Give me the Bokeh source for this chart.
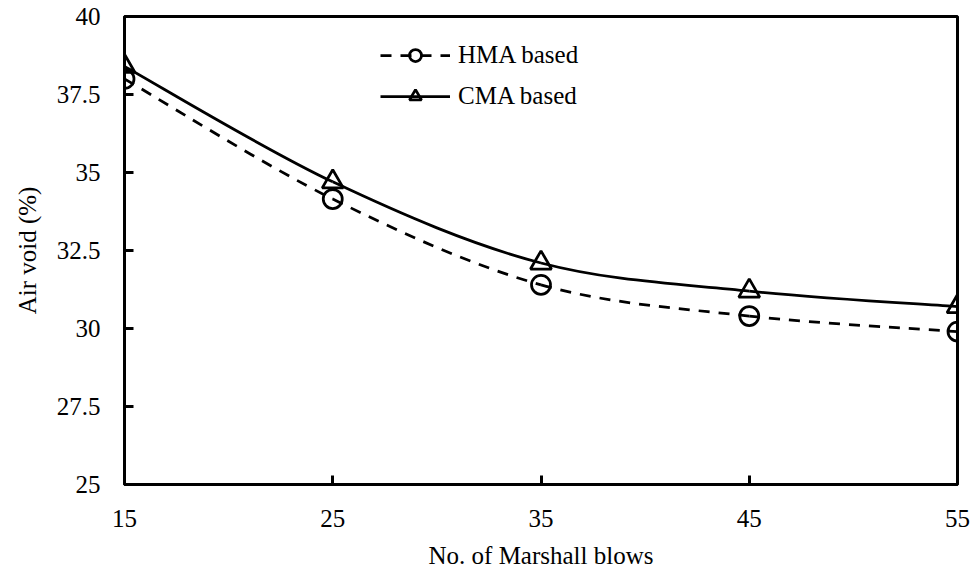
from bokeh.plotting import figure
from bokeh.models import Range1d, FixedTicker, Legend, LegendItem, ColumnDataSource
from bokeh.embed import file_html
from bokeh.resources import INLINE

blows = [15, 25, 35, 45, 55]
hma = [38.0, 34.15, 31.4, 30.4, 29.9]
cma = [38.4, 34.7, 32.1, 31.2, 30.7]
x_ticks = [15, 25, 35, 45, 55]
y_ticks = [25, 27.5, 30, 32.5, 35, 37.5, 40]
y_tick_labels = {25: "25", 27.5: "27.5", 30: "30", 32.5: "32.5", 35: "35", 37.5: "37.5", 40: "40"}

FONT = "Liberation Serif"


def smooth_segments(xs, ys):
    # Cardinal (Catmull-Rom style) Bezier control points for a smoothed line
    n = len(xs)
    x0, y0, x1, y1, cx0, cy0, cx1, cy1 = [], [], [], [], [], [], [], []
    t = 1.0 / 6.0
    for i in range(n - 1):
        xp, yp = (xs[i - 1], ys[i - 1]) if i > 0 else (xs[i], ys[i])
        xn, yn = (xs[i + 2], ys[i + 2]) if i + 2 < n else (xs[i + 1], ys[i + 1])
        x0.append(xs[i]); y0.append(ys[i])
        x1.append(xs[i + 1]); y1.append(ys[i + 1])
        cx0.append(xs[i] + (xs[i + 1] - xp) * t)
        cy0.append(ys[i] + (ys[i + 1] - yp) * t)
        cx1.append(xs[i + 1] - (xn - xs[i]) * t)
        cy1.append(ys[i + 1] - (yn - ys[i]) * t)
    return dict(x0=x0, y0=y0, x1=x1, y1=y1, cx0=cx0, cy0=cy0, cx1=cx1, cy1=cy1)


p = figure(width=972, height=579, output_backend="svg", toolbar_location=None,
           x_range=Range1d(15, 55), y_range=Range1d(25, 40),
           min_border_left=124, min_border_right=15, min_border_top=16, min_border_bottom=95)

p.background_fill_color = "white"
p.border_fill_color = "white"
p.outline_line_color = "black"
p.outline_line_width = 3
p.xgrid.visible = False
p.ygrid.visible = False

for ax in (p.xaxis[0], p.yaxis[0]):
    ax.axis_line_width = 3
    ax.axis_line_color = "black"
    ax.major_tick_in = 9
    ax.major_tick_out = 0
    ax.major_tick_line_width = 3
    ax.minor_tick_line_color = None
    ax.major_label_text_font = FONT
    ax.major_label_text_font_size = "25px"
    ax.major_label_text_color = "black"
    ax.axis_label_text_font = FONT
    ax.axis_label_text_font_size = "25px"
    ax.axis_label_text_font_style = "normal"
    ax.axis_label_text_color = "black"

p.xaxis.ticker = FixedTicker(ticks=x_ticks)
p.yaxis.ticker = FixedTicker(ticks=y_ticks)
p.yaxis.major_label_overrides = y_tick_labels
p.xaxis.major_label_standoff = 25
p.yaxis.major_label_standoff = 24
p.xaxis.axis_label = "No. of Marshall blows"
p.yaxis.axis_label = "Air void (%)"
p.xaxis.axis_label_standoff = 12
p.yaxis.axis_label_standoff = 13

hs = ColumnDataSource(smooth_segments(blows, hma))
cs = ColumnDataSource(smooth_segments(blows, cma))

p.bezier(x0="x0", y0="y0", x1="x1", y1="y1", cx0="cx0", cy0="cy0", cx1="cx1", cy1="cy1",
         source=hs, line_color="black", line_width=2.75, line_dash="11 9")
p.bezier(x0="x0", y0="y0", x1="x1", y1="y1", cx0="cx0", cy0="cy0", cx1="cx1", cy1="cy1",
         source=cs, line_color="black", line_width=2.75)

hm = p.scatter(blows, hma, marker="circle", size=19, fill_alpha=0,
               line_color="black", line_width=2.75)
cm = p.scatter(blows, cma, marker="triangle", size=21, fill_alpha=0,
               line_color="black", line_width=2.75)

# proxy renderers for legend glyphs
lh = p.line([15, 15], [25, 25], line_color="black", line_width=2.75, line_dash="11 9", visible=False)
lc = p.line([15, 15], [25, 25], line_color="black", line_width=2.75, visible=False)

legend = Legend(items=[LegendItem(label="HMA based", renderers=[lh, hm]),
                       LegendItem(label="CMA based", renderers=[lc, cm])],
                location=(256, 373))
legend.glyph_width = 70
legend.glyph_height = 30
legend.spacing = 11
legend.padding = 0
legend.margin = 0
legend.label_standoff = 8
legend.label_text_font = FONT
legend.label_text_font_size = "25px"
legend.label_text_color = "black"
legend.border_line_color = None
legend.background_fill_alpha = 0
p.add_layout(legend, "center")

open("out.html", "w").write(file_html(p, INLINE))
